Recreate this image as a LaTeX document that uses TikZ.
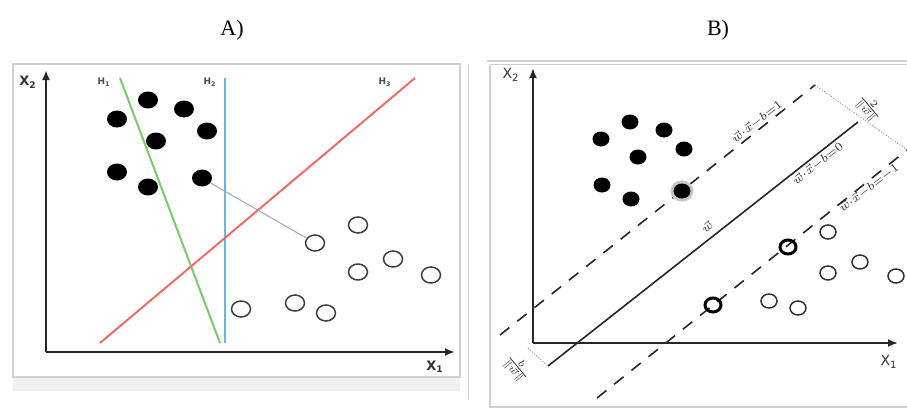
\documentclass[tikz,border=0pt]{standalone}
\usepackage{fontspec}
\setmainfont{Liberation Serif}
\setsansfont{DejaVu Sans}
\usetikzlibrary{arrows.meta,shapes.geometric}
\definecolor{hA}{RGB}{122,200,112}
\definecolor{hB}{RGB}{112,178,226}
\definecolor{hC}{RGB}{236,108,104}
\definecolor{frm}{RGB}{208,208,208}
\definecolor{lab}{RGB}{50,50,50}

\begin{document}
\begin{tikzpicture}[x=0.5pt,y=-0.5pt,
  dot/.style={ellipse,fill=black,inner sep=0,minimum width=10pt,minimum height=8.5pt},
  ring/.style={ellipse,draw=black!75,line width=0.75pt,inner sep=0,minimum width=9.5pt,minimum height=8pt},
  dotB/.style={dot,minimum width=8.5pt,minimum height=7.5pt},
  ringB/.style={ring,draw=black!80,minimum width=8pt,minimum height=7pt},
  axis/.style={black!85,line width=1pt,-{Latex[length=5pt,width=4pt]}},
  hname/.style={text=black!70,font=\sffamily\bfseries\fontsize{4.5}{5}\selectfont},
  xname/.style={text=black!80,font=\sffamily\fontsize{7}{8}\selectfont},
  eqn/.style={text=lab,font=\fontsize{6}{7}\selectfont,inner sep=0.5pt,rotate=38},
  frac/.style={text=lab,font=\fontsize{7.5}{8}\selectfont,inner sep=0.5pt,rotate=-50},
  title/.style={font=\fontsize{11}{13}\selectfont}]
  \useasboundingbox (0,0) rectangle (907,412);

  % ---- titles ----
  \node[title] (tA) at (232,30) {A)};
  \node[title] (tB) at (718,30) {B)};

  % ---- A : three candidate lines ----
  \fill[black!6] (13,377) rectangle (460,391);
  \draw[frm,line width=1pt,fill=white] (13,64) rectangle (460,377);
  \draw[black!20] (468,64) -- (468,400);
  \coordinate (oA) at (46,352);
  \coordinate (yA) at (46,70);
  \coordinate (xA) at (455,352);
  \draw[axis] (oA) -- (yA);
  \draw[axis] (oA) -- (xA);
  \node[xname,font=\sffamily\bfseries\fontsize{6.5}{7}\selectfont] (lx2A) at (28,82) {X\textsubscript{2}};
  \node[xname,font=\sffamily\bfseries\fontsize{6.5}{7}\selectfont] (lx1A) at (435,367) {X\textsubscript{1}};

  \coordinate (h1a) at (120,78);  \coordinate (h1b) at (220,343);
  \coordinate (h2a) at (225,78);  \coordinate (h2b) at (225,343);
  \coordinate (h3a) at (100,343); \coordinate (h3b) at (415,78);
  \draw[hA,line width=1pt] (h1a) -- (h1b);
  \draw[hB,line width=1.4pt] (h2a) -- (h2b);
  \draw[hC,line width=1pt] (h3a) -- (h3b);
  \node[hname] (nh1) at (104,82) {H\textsubscript{1}};
  \node[hname] (nh2) at (210,82) {H\textsubscript{2}};
  \node[hname] (nh3) at (385,82) {H\textsubscript{3}};

  \foreach \p [count=\i] in {(148,100),(184,109),(117,119),(207,131),(156,141),(117,172),(148,187),(202,178)}
    \node[dot] (a\i) at \p {};
  \foreach \p [count=\i] in {(358,225),(315,243),(393,259),(358,272),(431,275),(241,309),(295,303),(326,313)}
    \node[ring] (o\i) at \p {};
  \draw[black!35,line width=0.5pt] (a8) -- (o2);

  % ---- B : maximum margin ----
  \draw[frm,line width=0.6pt] (487,61) -- (907,61);
  \draw[frm,line width=0.6pt] (490,64.5) -- (907,64.5);
  \draw[frm,line width=0.6pt] (490,64.5) -- (490,407) -- (907,407);
  \coordinate (oB) at (533,343);
  \coordinate (yB) at (533,68);
  \coordinate (xB) at (898,343);
  \draw[axis,line width=0.9pt] (oB) -- (yB);
  \draw[axis,line width=0.9pt] (oB) -- (xB);
  \node[xname] (lx2B) at (511,75) {X\textsubscript{2}};
  \node[xname] (lx1B) at (889,362) {X\textsubscript{1}};

  \coordinate (m0a) at (548,366); \coordinate (m0b) at (858,122);
  \coordinate (m1a) at (500,335); \coordinate (m1b) at (815,85);
  \coordinate (m2a) at (597,398); \coordinate (m2b) at (907,150);
  \coordinate (bo)  at (528,348);
  \draw[black!85,line width=0.8pt] (m0a) -- (m0b);
  \draw[black!85,line width=0.8pt,dash pattern=on 6pt off 5pt] (m1a) -- (m1b);
  \draw[black!85,line width=0.8pt,dash pattern=on 6pt off 5pt] (m2a) -- (m2b);
  \draw[black!55,line width=0.4pt,densely dotted] (m1b) -- (m2b);
  \draw[black!55,line width=0.4pt,densely dotted] (bo) -- (m0a);

  \node[eqn] (e1) at (757,122) {$\vec{w}{\cdot}\vec{x}{-}b{=}1$};
  \node[eqn] (e0) at (818,164) {$\vec{w}{\cdot}\vec{x}{-}b{=}0$};
  \node[eqn] (e2) at (869,188) {$\vec{w}{\cdot}\vec{x}{-}b{=}{-}1$};
  \node[eqn] (ew) at (707,227) {$\vec{w}$};
  \node[frac] (f2) at (869,108) {$\frac{2}{\|\vec{w}\|}$};
  \node[frac] (fb) at (517,368) {$\frac{b}{\|\vec{w}\|}$};

  \fill[black!22] (682,191) ellipse (5.8pt and 5.3pt);
  \foreach \p [count=\i] in {(630,122),(664,130),(601,139),(684,149),(638,157),(602,185),(631,199),(682,191)}
    \node[dotB] (b\i) at \p {};
  \foreach \p [count=\i] in {(828,232),(860,262),(828,273),(896,276),(769,301),(798,308)}
    \node[ringB] (r\i) at \p {};
  \foreach \p [count=\i] in {(788,247),(713,305)}
    \node[ringB,line width=1.5pt,draw=black] (s\i) at \p {};

\end{tikzpicture}
\end{document}
